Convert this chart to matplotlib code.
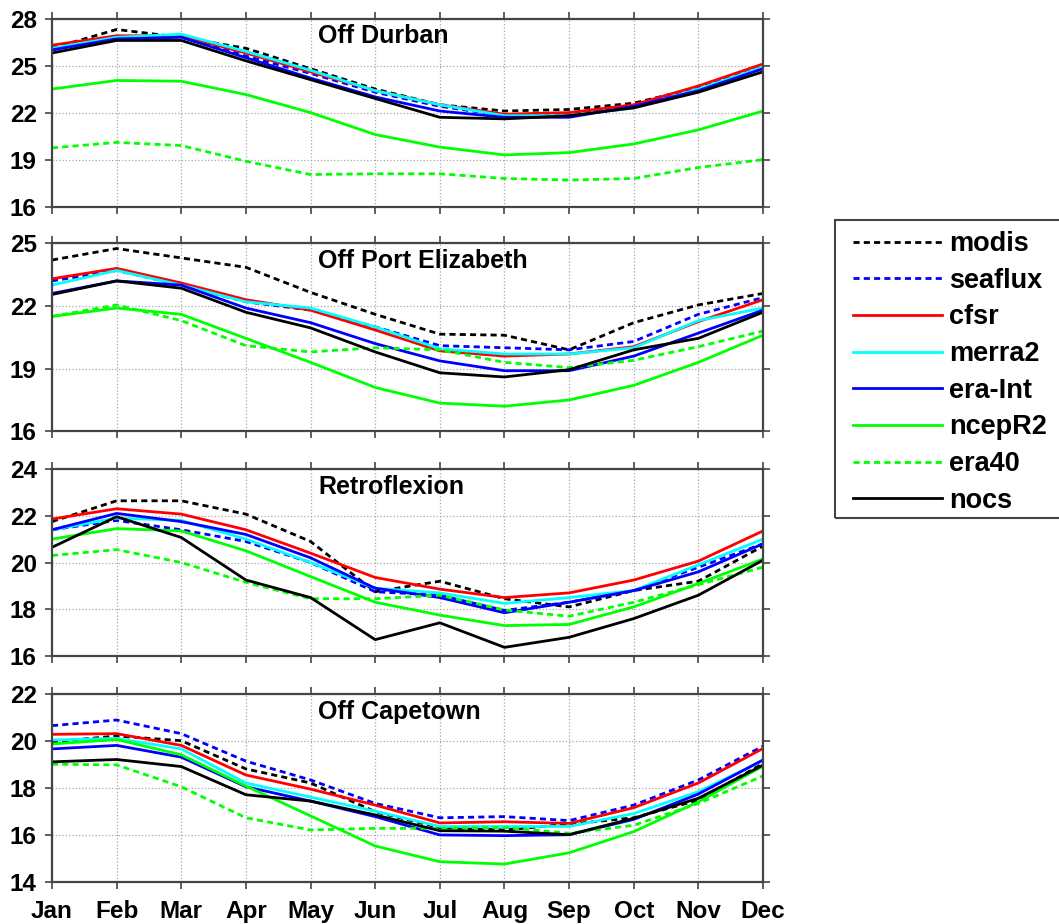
import numpy as np
import matplotlib
matplotlib.use("Agg")
import matplotlib.pyplot as plt
from matplotlib.patches import Rectangle

#=====================data===============
months = ['Jan','Feb','Mar','Apr','May','Jun','Jul','Aug','Sep','Oct','Nov','Dec']
datasets = ['modis','seaflux','cfsr','merra2','era-Int','ncepR2','era40','nocs']
regions = ['Off Durban','Off Port Elizabeth','Retroflexion','Off Capetown']

# Off Durban
durban_modis   = [26.1, 27.3, 26.8, 26.1, 24.8, 23.5, 22.5, 22.1, 22.2, 22.6, 23.6, 24.9]
durban_seaflux = [26.0, 26.8, 26.9, 25.6, 24.5, 23.3, 22.4, 21.8, 21.9, 22.4, 23.5, 24.9]
durban_cfsr    = [26.3, 26.9, 26.9, 25.8, 24.6, 23.4, 22.5, 21.9, 22.0, 22.5, 23.7, 25.1]
durban_merra2  = [26.1, 26.8, 27.0, 25.9, 24.7, 23.4, 22.5, 21.8, 21.8, 22.3, 23.5, 24.9]
durban_eraint  = [26.0, 26.7, 26.8, 25.5, 24.2, 23.0, 22.1, 21.7, 21.7, 22.4, 23.4, 24.8]
durban_ncep    = [23.5, 24.05, 24.0, 23.15, 22.0, 20.6, 19.8, 19.3, 19.45, 20.0, 20.9, 22.1]
durban_era40   = [19.75, 20.1, 19.9, 18.9, 18.05, 18.1, 18.1, 17.8, 17.7, 17.8, 18.5, 19.0]
durban_nocs    = [25.8, 26.6, 26.6, 25.3, 24.1, 22.9, 21.7, 21.6, 21.8, 22.3, 23.3, 24.6]

# Off Port Elizabeth
pe_modis   = [24.2, 24.75, 24.3, 23.85, 22.65, 21.6, 20.65, 20.6, 19.9, 21.2, 22.05, 22.6]
pe_seaflux = [23.2, 23.7, 23.0, 22.2, 21.8, 21.0, 20.1, 20.0, 19.9, 20.3, 21.6, 22.4]
pe_cfsr    = [23.3, 23.8, 23.1, 22.3, 21.8, 20.85, 19.85, 19.6, 19.7, 20.05, 21.25, 22.3]
pe_merra2  = [23.0, 23.7, 23.0, 22.2, 21.9, 21.0, 19.95, 19.7, 19.7, 20.0, 21.3, 21.9]
pe_eraint  = [22.6, 23.2, 23.0, 21.9, 21.2, 20.2, 19.37, 18.9, 18.9, 19.6, 20.7, 21.8]
pe_ncep    = [21.5, 21.9, 21.6, 20.45, 19.3, 18.1, 17.35, 17.2, 17.5, 18.2, 19.3, 20.6]
pe_era40   = [21.5, 22.05, 21.3, 20.1, 19.8, 20.0, 19.9, 19.3, 19.05, 19.4, 20.05, 20.8]
pe_nocs    = [22.55, 23.2, 22.85, 21.7, 20.95, 19.8, 18.8, 18.6, 18.95, 19.9, 20.45, 21.7]

# Retroflexion
retro_modis   = [21.75, 22.64, 22.64, 22.07, 20.9, 18.75, 19.2, 18.45, 18.1, 18.8, 19.2, 20.7]
retro_seaflux = [21.4, 21.8, 21.4, 20.9, 20.0, 18.75, 18.6, 17.95, 18.3, 18.8, 19.8, 20.8]
retro_cfsr    = [21.86, 22.3, 22.07, 21.4, 20.4, 19.36, 18.86, 18.5, 18.7, 19.25, 20.06, 21.35]
retro_merra2  = [21.4, 21.9, 21.8, 21.0, 20.0, 18.9, 18.7, 18.25, 18.5, 18.8, 19.9, 21.0]
retro_eraint  = [21.4, 22.1, 21.75, 21.2, 20.2, 18.9, 18.5, 17.85, 18.3, 18.8, 19.6, 20.8]
retro_ncep    = [21.0, 21.45, 21.35, 20.5, 19.4, 18.3, 17.75, 17.3, 17.35, 18.1, 19.1, 20.15]
retro_era40   = [20.3, 20.55, 20.0, 19.15, 18.45, 18.45, 18.6, 17.97, 17.7, 18.3, 19.05, 19.8]
retro_nocs    = [20.65, 21.96, 21.07, 19.25, 18.5, 16.7, 17.42, 16.37, 16.8, 17.6, 18.6, 20.1]

# Off Capetown
cape_modis   = [19.95, 20.2, 20.0, 18.8, 18.2, 16.98, 16.3, 16.2, 16.45, 16.72, 17.47, 19.03]
cape_seaflux = [20.64, 20.88, 20.3, 19.13, 18.33, 17.33, 16.72, 16.77, 16.6, 17.26, 18.33, 19.77]
cape_cfsr    = [20.27, 20.3, 19.8, 18.54, 17.94, 17.26, 16.5, 16.55, 16.48, 17.15, 18.2, 19.67]
cape_merra2  = [20.03, 20.1, 19.65, 18.2, 17.6, 17.0, 16.35, 16.35, 16.35, 16.9, 17.83, 19.15]
cape_eraint  = [19.65, 19.8, 19.3, 18.04, 17.43, 16.77, 15.99, 15.96, 16.0, 16.65, 17.73, 19.18]
cape_ncep    = [19.86, 20.05, 19.4, 18.07, 16.8, 15.52, 14.85, 14.75, 15.23, 16.13, 17.4, 18.92]
cape_era40   = [19.0, 18.97, 18.04, 16.72, 16.2, 16.27, 16.27, 16.31, 16.06, 16.4, 17.33, 18.5]
cape_nocs    = [19.1, 19.2, 18.9, 17.7, 17.43, 16.84, 16.17, 16.15, 16.0, 16.7, 17.55, 18.96]

yticks_durban = [16, 19, 22, 25, 28]
yticks_pe     = [16, 19, 22, 25]
yticks_retro  = [16, 18, 20, 22, 24]
yticks_cape   = [14, 16, 18, 20, 22]

#=====================group per panel===============
panel_data = [
    [durban_modis, durban_seaflux, durban_cfsr, durban_merra2, durban_eraint, durban_ncep, durban_era40, durban_nocs],
    [pe_modis, pe_seaflux, pe_cfsr, pe_merra2, pe_eraint, pe_ncep, pe_era40, pe_nocs],
    [retro_modis, retro_seaflux, retro_cfsr, retro_merra2, retro_eraint, retro_ncep, retro_era40, retro_nocs],
    [cape_modis, cape_seaflux, cape_cfsr, cape_merra2, cape_eraint, cape_ncep, cape_era40, cape_nocs],
]
panel_yticks = [yticks_durban, yticks_pe, yticks_retro, yticks_cape]

colors = ['black', '#0000ff', '#ff0000', '#00ffff', '#0000ff', '#00ff00', '#00ff00', 'black']
styles = ['--', '--', '-', '-', '-', '-', '--', '-']

#=================================Plot======================================
plt.rcParams['font.family'] = ['Liberation Sans', 'DejaVu Sans']
plt.rcParams['font.weight'] = 'bold'

W, H = 1059, 924
fig = plt.figure(figsize=(W/100, H/100), dpi=100)

# panel boxes in pixels (top, bottom)
ax_left, ax_right = 52, 763
panel_px = [(18.5, 206.7), (243.3, 431.3), (469, 656), (693.7, 881.7)]

x = np.arange(len(months))
axes = []
for p in range(4):
    top, bot = panel_px[p]
    ax = fig.add_axes([ax_left/W, 1-bot/H, (ax_right-ax_left)/W, (bot-top)/H])
    axes.append(ax)
    for k in range(len(datasets)):
        ln, = ax.plot(x, panel_data[p][k], color=colors[k], linestyle=styles[k],
                      linewidth=2.0, label=datasets[k])
        if styles[k] == '--':
            ln.set_dashes((2.2, 1.5))
    yt = panel_yticks[p]
    ax.set_ylim(yt[0], yt[-1])
    ax.set_yticks(yt)
    ax.set_xlim(0, 11)
    ax.set_xticks(x)
    if p == 3:
        ax.set_xticklabels(months, fontsize=17.5, fontweight='bold')
    else:
        ax.set_xticklabels([])
    ax.tick_params(axis='y', labelsize=17.5, pad=6)
    ax.tick_params(axis='x', pad=8)
    ax.tick_params(direction='out', length=5, width=1.2, color='#444444',
                   top=True, right=True)
    ax.grid(True, linestyle=':', color='#a8a8a8', linewidth=0.9)
    for s in ax.spines.values():
        s.set_linewidth(1.6)
        s.set_color('#444444')
    ax.text(0.374, 0.905, regions[p], transform=ax.transAxes, ha='left', va='center',
            fontsize=18, fontweight='bold')

# legend with a box that runs off the right edge
handles, labels = axes[0].get_legend_handles_labels()
leg = fig.legend(handles, labels, loc='upper left', bbox_to_anchor=(853/W, 1-231/H),
                 bbox_transform=fig.transFigure, frameon=False, fontsize=19.5,
                 handlelength=3.3, handletextpad=0.25, labelspacing=0.395,
                 borderpad=0, borderaxespad=0)
for t in leg.get_texts():
    t.set_fontweight('bold')
fig.patches.append(Rectangle((835/W, 1-518/H), 240/W, 298/H, transform=fig.transFigure,
                             fill=False, edgecolor='#444444', linewidth=1.5))

plt.savefig('out.png', dpi=100)
